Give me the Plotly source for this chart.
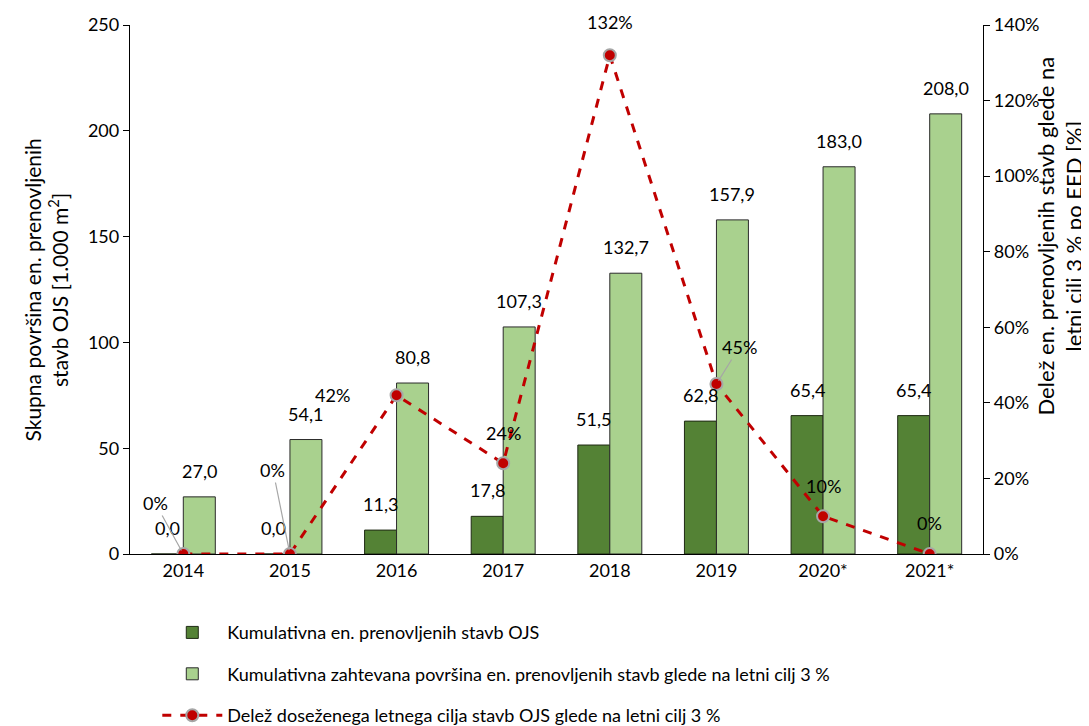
import plotly.graph_objects as go

years = ["2014", "2015", "2016", "2017", "2018", "2019", "2020*", "2021*"]
renovated = [0.0, 0.0, 11.3, 17.8, 51.5, 62.8, 65.4, 65.4]
required = [27.0, 54.1, 80.8, 107.3, 132.7, 157.9, 183.0, 208.0]
share = [0.0, 0.0, 0.42, 0.24, 1.32, 0.45, 0.10, 0.0]

name_ren = "Kumulativna en. prenovljenih stavb OJS"
name_req = "Kumulativna zahtevana površina en. prenovljenih stavb glede na letni cilj 3 %"
name_share = "Delež doseženega letnega cilja stavb OJS glede na letni cilj 3 %"
title_left = "Skupna površina en. prenovljenih<br>stavb OJS [1.000 m<sup>2</sup>]"
title_right = "Delež en. prenovljenih stavb glede na<br>letni cilj 3 % po EED [%]"

FONT = "Lato, 'Open Sans', sans-serif"
DARK = "#548235"
LIGHT = "#A9D18E"
RED = "#C00000"

fig = go.Figure()
fig.add_trace(go.Bar(x=years, y=renovated, name=name_ren, marker=dict(color=DARK, line=dict(color="#1f2a14", width=1)),
                     legendgroup="a"))
fig.add_trace(go.Bar(x=years, y=required, name=name_req, marker=dict(color=LIGHT, line=dict(color="#2b2b2b", width=1)),
                     legendgroup="b"))
fig.add_trace(go.Scatter(x=years, y=share, name=name_share, yaxis="y2", mode="lines+markers",
                         line=dict(color=RED, width=3, dash="dash"),
                         marker=dict(color=RED, size=12, line=dict(color="#A6A6A6", width=2)),
                         legendgroup="c"))

ann = []
def fmt(v):
    return f"{v:.1f}".replace(".", ",")

LBL = dict(size=18, color="black", family=FONT)
# annotations use the category index (numeric strings would be read as indices)
for i, v in enumerate(renovated):
    ann.append(dict(x=i, y=v, xref="x", yref="y", text=fmt(v), showarrow=False,
                    xshift=-16, yshift=13, yanchor="bottom", font=LBL))
for i, v in enumerate(required):
    ann.append(dict(x=i, y=v, xref="x", yref="y", text=fmt(v), showarrow=False,
                    xshift=16, yshift=13, yanchor="bottom", font=LBL))

# percent labels: (ax, ay, leader)
offsets = [(-28, -51, True), (-17, -84, True), (-64, 0, False), (0, -30, False),
           (0, -33, False), (23, -37, True), (0, -30, False), (0, -31, False)]
for i, (v, (ax, ay, lead)) in enumerate(zip(share, offsets)):
    txt = f"{round(v * 100):d}%"
    if lead:
        ann.append(dict(x=i, y=v, xref="x", yref="y2", text=txt, showarrow=True, arrowhead=0,
                        arrowcolor="#A6A6A6", arrowwidth=1.2, ax=ax, ay=ay, standoff=4,
                        font=LBL))
    else:
        ann.append(dict(x=i, y=v, xref="x", yref="y2", text=txt, showarrow=False,
                        xshift=ax, yshift=-ay, font=LBL))

# axis titles
ann.append(dict(x=0, y=0.5, xref="paper", yref="paper", text=title_left, showarrow=False,
                textangle=-90, xanchor="center", yanchor="middle", xshift=-85, yshift=-1,
                font=dict(size=21, color="black", family=FONT)))
ann.append(dict(x=1, y=0.5, xref="paper", yref="paper", text=title_right, showarrow=False,
                textangle=-90, xanchor="center", yanchor="middle", xshift=76, yshift=53,
                font=dict(size=22, color="black", family=FONT)))

fig.update_layout(
    width=1089, height=726,
    margin=dict(l=122, r=114, t=17, b=180, autoexpand=False),
    paper_bgcolor="white", plot_bgcolor="white",
    font=dict(family=FONT, size=18, color="black"),
    barmode="group", bargap=0.4, bargroupgap=0,
    xaxis=dict(type="category", range=[-0.5, len(years) - 0.5], showline=True, linecolor="black",
               linewidth=1.3, ticks="", showgrid=False, tickfont=dict(size=18), automargin=False),
    yaxis=dict(range=[0, 250], dtick=50, showline=True, linecolor="black", linewidth=1.3,
               ticks="outside", ticklen=6, tickcolor="black", showgrid=False, zeroline=False,
               tickfont=dict(size=18), automargin=False),
    yaxis2=dict(range=[0, 1.4], dtick=0.2, tickformat=".0%", overlaying="y", side="right",
                showline=True, linecolor="black", linewidth=1.3, ticks="outside", ticklen=6,
                tickcolor="black", showgrid=False, zeroline=False,
                tickfont=dict(size=18), automargin=False),
    legend=dict(orientation="v", x=0.032, xanchor="left", y=0.165, yref="container", yanchor="top",
                font=dict(size=18), tracegroupgap=15, traceorder="grouped", itemwidth=60,
                bgcolor="rgba(0,0,0,0)"),
    annotations=ann,
)

fig.write_html("out.html")
